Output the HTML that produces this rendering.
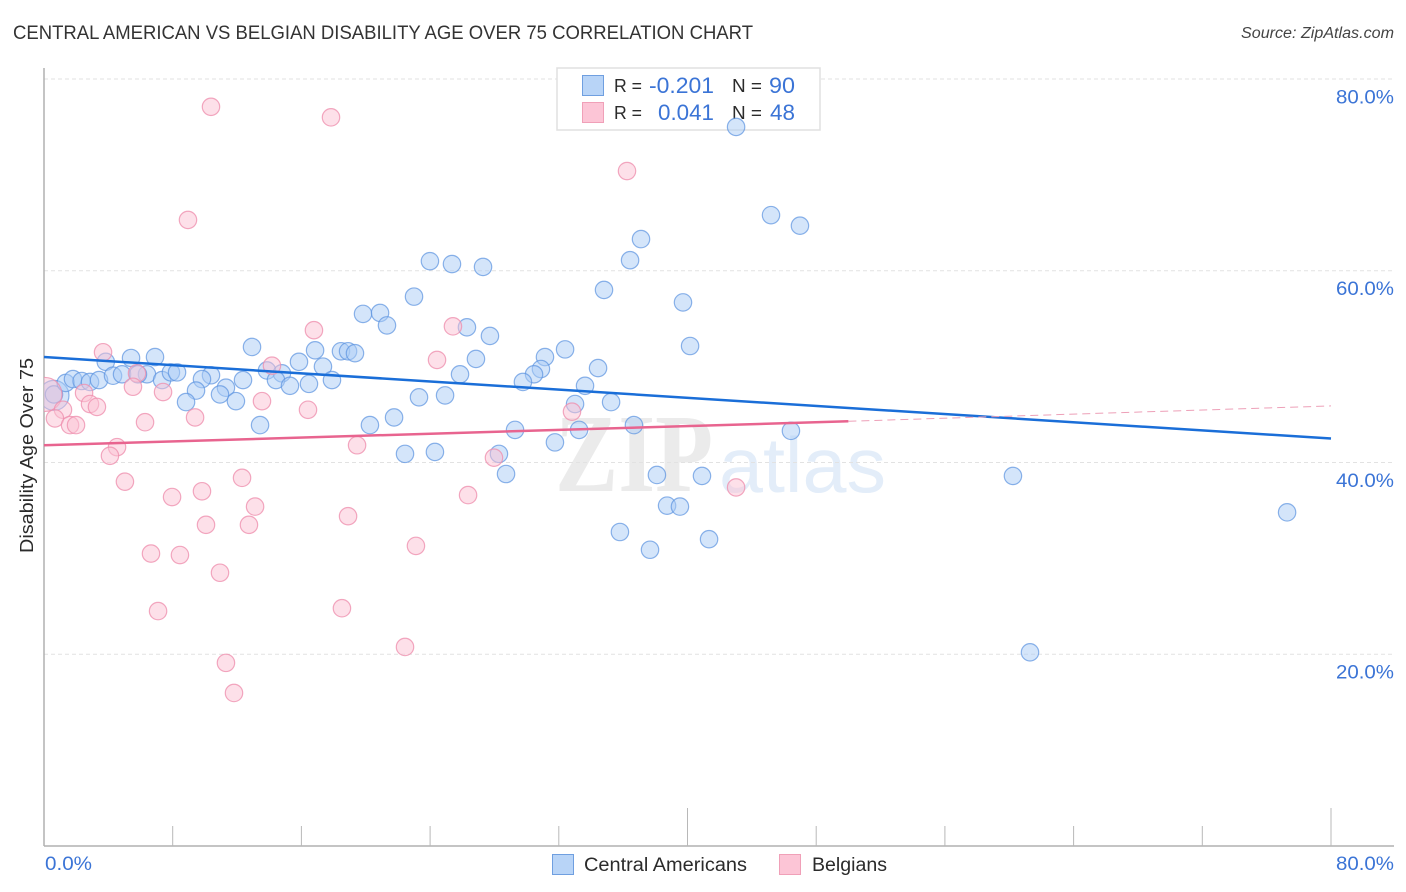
<!DOCTYPE html>
<html lang="en">
<head>
<meta charset="utf-8">
<title>Central American vs Belgian Disability Age Over 75 Correlation Chart</title>
<style>
html,body{margin:0;padding:0;background:#fff;width:1406px;height:892px;overflow:hidden}
svg{display:block;font-family:"Liberation Sans",sans-serif}
</style>
</head>
<body>
<svg id="chart" width="1406" height="892" viewBox="0 0 1406 892" xmlns="http://www.w3.org/2000/svg">
  <defs>
    <clipPath id="plot-clip"><rect x="44" y="60" width="1360" height="786"/></clipPath>
  </defs>
  <rect x="0" y="0" width="1406" height="892" fill="#ffffff"/>
  <text x="13" y="39" font-size="19" fill="#333333" textLength="740" lengthAdjust="spacingAndGlyphs">CENTRAL AMERICAN VS BELGIAN DISABILITY AGE OVER 75 CORRELATION CHART</text>
  <text x="1241" y="38" font-size="15.5" font-style="italic" fill="#444444" textLength="153" lengthAdjust="spacingAndGlyphs">Source: ZipAtlas.com</text>

  <g id="watermark">
    <text x="555" y="491" font-family="'Liberation Serif',serif" font-weight="bold" font-size="111" fill="#ebebeb" textLength="158" lengthAdjust="spacingAndGlyphs">ZIP</text>
    <text x="719" y="492" font-size="78" fill="#e3edf9" textLength="167" lengthAdjust="spacingAndGlyphs">atlas</text>
  </g>

  <g id="grid"></g>
  <g id="axes"></g>

  <g>
    <rect x="557" y="68" width="263" height="62" fill="#ffffff" stroke="#e0e0e0" stroke-width="1.5"/>
    <rect x="582.5" y="75.5" width="21" height="20" fill="#b8d4f7" stroke="#6f9fe0" stroke-width="1"/>
    <rect x="582.5" y="102.5" width="21" height="20" fill="#fcc5d6" stroke="#f0a0b8" stroke-width="1"/>
    <text x="614" y="92" font-size="18" fill="#2b2b2b" textLength="28" lengthAdjust="spacingAndGlyphs">R =</text>
    <text x="649" y="93" font-size="22" fill="#3b74d6" textLength="65" lengthAdjust="spacingAndGlyphs">-0.201</text>
    <text x="732" y="92" font-size="18" fill="#2b2b2b" textLength="30" lengthAdjust="spacingAndGlyphs">N =</text>
    <text x="769" y="93" font-size="22" fill="#3b74d6" textLength="26" lengthAdjust="spacingAndGlyphs">90</text>
    <text x="614" y="119" font-size="18" fill="#2b2b2b" textLength="28" lengthAdjust="spacingAndGlyphs">R =</text>
    <text x="658" y="120" font-size="22" fill="#3b74d6" textLength="56" lengthAdjust="spacingAndGlyphs">0.041</text>
    <text x="732" y="119" font-size="18" fill="#2b2b2b" textLength="30" lengthAdjust="spacingAndGlyphs">N =</text>
    <text x="770" y="120" font-size="22" fill="#3b74d6" textLength="25" lengthAdjust="spacingAndGlyphs">48</text>
  </g>

  <g clip-path="url(#plot-clip)">
    <g id="blue-points"></g>
    <g id="pink-points"></g>
  </g>
  <g id="trends"></g>

  <text transform="translate(33 553) rotate(-90)" font-size="18" fill="#2b2b2b" textLength="195" lengthAdjust="spacingAndGlyphs">Disability Age Over 75</text>

  <g>
    <rect x="552.5" y="854.5" width="21" height="20" fill="#b8d4f7" stroke="#6f9fe0" stroke-width="1"/>
    <text x="584" y="871" font-size="19" fill="#2b2b2b" textLength="163" lengthAdjust="spacingAndGlyphs">Central Americans</text>
    <rect x="779.5" y="854.5" width="21" height="20" fill="#fcc5d6" stroke="#f0a0b8" stroke-width="1"/>
    <text x="812" y="871" font-size="19" fill="#2b2b2b" textLength="75" lengthAdjust="spacingAndGlyphs">Belgians</text>
  </g>
</svg>
<script>
const yTickValues = [20, 40, 60, 80];
const yTickLabels = ["20.0%", "40.0%", "60.0%", "80.0%"];
const xTickValues = [8, 16, 24, 32, 40, 48, 56, 64, 72, 80];
const xLongTickValues = [40, 80];
const xEndValues = [0, 80];
const xEndLabels = ["0.0%", "80.0%"];

const blueX = [0.62,0.62,3.84,5.41,6.90,1.35,1.80,2.34,2.86,3.42,4.29,4.85,6.40,5.84,7.34,7.89,8.27,12.93,16.85,18.46,18.90,19.33,15.85,17.34,13.86,14.79,14.42,15.29,16.47,17.90,12.37,10.38,9.82,11.31,10.94,9.45,8.83,11.93,13.43,23.00,34.81,19.83,20.89,21.32,26.29,27.72,32.39,31.14,26.85,30.89,30.46,34.44,25.86,29.77,33.63,33.01,35.25,24.93,23.31,21.76,20.26,29.28,33.26,31.76,36.67,22.44,24.30,28.28,28.72,46.43,38.10,40.90,38.73,39.53,35.80,37.67,41.34,43.02,45.19,46.99,37.11,36.43,23.99,25.36,27.29,39.72,40.16,60.23,77.27,61.29];
const blueY = [47.0,47.1,50.5,50.9,51.0,48.3,48.7,48.5,48.4,48.6,49.05,49.2,49.2,49.2,48.6,49.4,49.4,52.05,51.7,51.6,51.6,51.4,50.5,50.0,49.6,49.3,48.6,48.0,48.2,48.6,48.6,49.1,48.7,47.8,47.1,47.5,46.3,46.4,43.9,57.3,58.0,55.5,55.6,54.3,54.1,53.2,51.8,51.0,50.8,49.75,49.2,49.85,49.2,48.4,48.0,46.1,46.3,47.0,46.8,44.7,43.9,43.4,43.4,42.1,43.9,40.9,41.1,40.9,38.8,43.3,38.7,38.6,35.5,35.4,32.75,30.9,32.0,75.0,65.8,64.7,63.3,61.1,61.0,60.7,60.4,56.7,52.15,38.6,34.8,20.2];

const pinkX = [0.06,10.38,17.84,36.24,8.95,16.78,25.42,24.43,3.67,14.17,5.78,5.53,7.40,2.49,2.86,3.29,1.18,0.68,1.62,1.99,6.28,4.54,4.10,5.03,7.96,9.82,10.07,12.74,12.31,13.12,13.55,16.41,9.39,6.65,8.45,10.94,7.09,18.52,11.31,11.81,22.44,18.90,23.12,19.46,26.36,27.97,32.82,43.02];
const pinkY = [47.1,77.1,76.0,70.4,65.3,53.8,54.2,50.7,51.5,50.1,49.3,47.9,47.35,47.25,46.1,45.8,45.5,44.6,43.9,43.9,44.2,41.6,40.7,38.0,36.4,37.0,33.5,33.5,38.4,35.4,46.4,45.5,44.7,30.5,30.35,28.5,24.5,24.8,19.1,15.96,20.76,34.4,31.3,41.8,36.6,40.5,45.3,37.4];

const blueTrendX = [0, 80];
const blueTrendY = [51.0, 42.5];
const pinkTrendSolidX = [0, 50];
const pinkTrendSolidY = [41.8, 44.3];
const pinkTrendDashX = [50, 80];
const pinkTrendDashY = [44.3, 45.9];

const SVGNS = "http://www.w3.org/2000/svg";
function xScale(v) { return 44 + v * 16.0875; }
function yScale(v) { return 846 - v * 9.5875; }
function make(tag, parent, attrs) {
  const el = document.createElementNS(SVGNS, tag);
  Object.keys(attrs).forEach(function (k) { el.setAttribute(k, attrs[k]); });
  parent.appendChild(el);
  return el;
}

const gridG = document.getElementById("grid");
const axesG = document.getElementById("axes");

yTickValues.forEach(function (v, i) {
  const line = make("line", gridG, { x1: 44, x2: 1394, y1: yScale(v), y2: yScale(v), stroke: "#e2e2e2", "stroke-width": 1, "stroke-dasharray": "4 3" });
  
  
  const label = make("text", axesG, { x: 1336, y: yScale(v) + 24.3, "font-size": 19.5, fill: "#3b74d6", textLength: 58, lengthAdjust: "spacingAndGlyphs" });
  label.textContent = yTickLabels[i];
  
  
});

const yAxisLine = make("line", axesG, { x1: 44, x2: 44, y1: 68, y2: 846, stroke: "#b0b0b0", "stroke-width": 1.5 });


const xAxisLine = make("line", axesG, { x1: 44, x2: 1394, y1: 846, y2: 846, stroke: "#b0b0b0", "stroke-width": 1.5 });



xTickValues.forEach(function (v) {
  const top = xLongTickValues.indexOf(v) >= 0 ? 808 : 826;
  const tick = make("line", axesG, { x1: xScale(v), x2: xScale(v), y1: top, y2: 846, stroke: "#b8b8b8", "stroke-width": 1 });
  
  
});

xEndValues.forEach(function (v, i) {
  const label = make("text", axesG, { x: i === 0 ? xScale(v) + 1 : 1336, y: 870, "font-size": 19.5, fill: "#3b74d6", textLength: i === 0 ? 47 : 58, lengthAdjust: "spacingAndGlyphs" });
  label.textContent = xEndLabels[i];
  
  
});

const blueG = document.getElementById("blue-points");
blueX.forEach(function (v, i) {
  const dot = make("circle", blueG, { cx: xScale(v), cy: yScale(blueY[i]), r: i === 0 ? 15 : 8.7, fill: "#a9cbf5", "fill-opacity": 0.5, stroke: "#5b93e0", "stroke-opacity": 0.7, "stroke-width": 1.2 });
  
  
});

const pinkG = document.getElementById("pink-points");
pinkX.forEach(function (v, i) {
  const dot = make("circle", pinkG, { cx: xScale(v), cy: yScale(pinkY[i]), r: i === 0 ? 17 : 8.7, fill: "#fbc2d4", "fill-opacity": 0.5, stroke: "#ee8fae", "stroke-opacity": 0.78, "stroke-width": 1.2 });
  
  
});

const trendG = document.getElementById("trends");
const blueTrend = make("line", trendG, { x1: xScale(blueTrendX[0]), y1: yScale(blueTrendY[0]), x2: xScale(blueTrendX[1]), y2: yScale(blueTrendY[1]), stroke: "#1a6ed8", "stroke-width": 2.5 });


const pinkTrend = make("line", trendG, { x1: xScale(pinkTrendSolidX[0]), y1: yScale(pinkTrendSolidY[0]), x2: xScale(pinkTrendSolidX[1]), y2: yScale(pinkTrendSolidY[1]), stroke: "#e8648f", "stroke-width": 2.5 });


const pinkDash = make("line", trendG, { x1: xScale(pinkTrendDashX[0]), y1: yScale(pinkTrendDashY[0]), x2: xScale(pinkTrendDashX[1]), y2: yScale(pinkTrendDashY[1]), stroke: "#eda0b8", "stroke-width": 1, "stroke-dasharray": "8 5" });


</script>
</body>
</html>
